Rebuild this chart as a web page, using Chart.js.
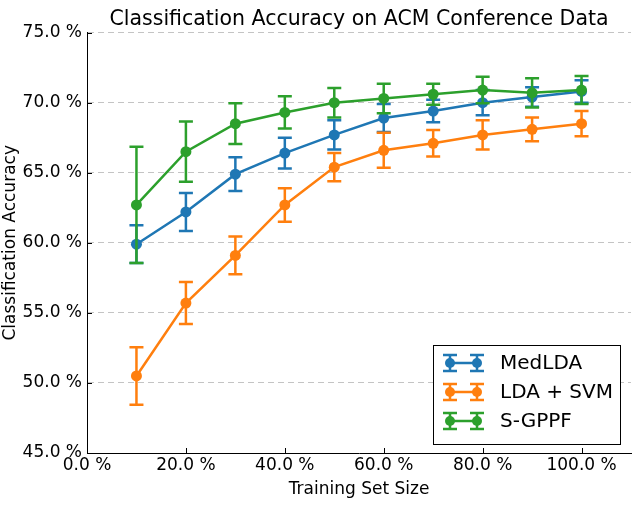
<!DOCTYPE html>
<html>
<head>
<meta charset="utf-8">
<script src="https://cdn.jsdelivr.net/npm/chart.js@4/dist/chart.umd.min.js"></script>
<style>
  html, body { margin: 0; padding: 0; background: #fff; }
</style>
</head>
<body>
<canvas id="chart" width="641" height="508"></canvas>
<script>
// training set size (%)
const trainSizes = [10, 20, 30, 40, 50, 60, 70, 80, 90, 100];
const xTicks = [0, 20, 40, 60, 80, 100];
const yTicks = [45, 50, 55, 60, 65, 70, 75];

const seriesNames = ['MedLDA', 'LDA + SVM', 'S-GPPF'];
const seriesColors = ['#1f77b4', '#ff7f0e', '#2ca02c'];

// accuracy (%) and error bar half-length
const medldaAcc = [59.9, 62.2, 64.9, 66.4, 67.7, 68.9, 69.4, 70.0, 70.4, 70.8];
const medldaErr = [1.35, 1.35, 1.2, 1.1, 1.05, 1.0, 0.8, 0.9, 0.7, 0.8];
const ldaSvmAcc = [50.5, 55.7, 59.1, 62.7, 65.4, 66.6, 67.1, 67.7, 68.1, 68.5];
const ldaSvmErr = [2.05, 1.5, 1.35, 1.2, 1.0, 1.25, 0.95, 1.05, 0.85, 0.9];
const sgppfAcc = [62.7, 66.5, 68.5, 69.3, 70.0, 70.3, 70.6, 70.9, 70.7, 70.9];
const sgppfErr = [4.15, 2.15, 1.45, 1.15, 1.05, 1.05, 0.75, 0.95, 1.05, 1.0];

const accs = [medldaAcc, ldaSvmAcc, sgppfAcc];
const errs = [medldaErr, ldaSvmErr, sgppfErr];

const FONT = "'DejaVu Sans', sans-serif";

// vertical error bars with caps, drawn under each line
const errorBars = {
  id: 'errorBars',
  beforeDatasetDraw(chart, args) {
    const ds = chart.data.datasets[args.index];
    const yScale = chart.scales.y;
    const ctx = chart.ctx;
    ctx.save();
    ctx.strokeStyle = ds.borderColor;
    ctx.lineWidth = 2.5;
    args.meta.data.forEach((pt, i) => {
      const v = ds.data[i].y, e = ds.errors[i];
      const top = yScale.getPixelForValue(v + e);
      const bot = yScale.getPixelForValue(v - e);
      ctx.beginPath();
      ctx.moveTo(pt.x, top); ctx.lineTo(pt.x, bot);
      ctx.moveTo(pt.x - 7, top); ctx.lineTo(pt.x + 7, top);
      ctx.moveTo(pt.x - 7, bot); ctx.lineTo(pt.x + 7, bot);
      ctx.stroke();
    });
    ctx.restore();
  }
};

// inward tick marks like matplotlib
const innerTicks = {
  id: 'innerTicks',
  afterDraw(chart) {
    const {ctx, chartArea, scales: {x, y}} = chart;
    ctx.save();
    ctx.strokeStyle = '#000';
    ctx.lineWidth = 1;
    ctx.beginPath();
    xTicks.forEach(v => {
      const px = Math.round(x.getPixelForValue(v)) + 0.5;
      ctx.moveTo(px, chartArea.bottom);
      ctx.lineTo(px, chartArea.bottom - 5);
    });
    yTicks.forEach(v => {
      const py = Math.round(y.getPixelForValue(v)) + 0.5;
      ctx.moveTo(chartArea.left, py);
      ctx.lineTo(chartArea.left + 5, py);
    });
    ctx.stroke();
    ctx.restore();
  }
};

// boxed legend with errorbar glyphs, lower right
const errLegend = {
  id: 'errLegend',
  afterDatasetsDraw(chart) {
    const {ctx, chartArea} = chart;
    const w = 187, h = 99;
    const bx = chartArea.right - 11 - w, by = chartArea.bottom - 9 - h;
    ctx.save();
    ctx.fillStyle = '#fff';
    ctx.fillRect(bx, by, w, h);
    ctx.strokeStyle = '#000';
    ctx.lineWidth = 1;
    ctx.strokeRect(Math.round(bx) + 0.5, Math.round(by) + 0.5, w, h);
    ctx.font = '20px ' + FONT;
    ctx.textBaseline = 'middle';
    seriesNames.forEach((name, i) => {
      const cy = by + 18 + i * 29;
      const x1 = bx + 17, x2 = bx + 44;
      ctx.strokeStyle = seriesColors[i];
      ctx.fillStyle = seriesColors[i];
      ctx.lineWidth = 2.5;
      ctx.beginPath();
      ctx.moveTo(x1, cy); ctx.lineTo(x2, cy);
      [x1, x2].forEach(px => {
        ctx.moveTo(px, cy - 8); ctx.lineTo(px, cy + 8);
        ctx.moveTo(px - 7, cy - 8); ctx.lineTo(px + 7, cy - 8);
        ctx.moveTo(px - 7, cy + 8); ctx.lineTo(px + 7, cy + 8);
      });
      ctx.stroke();
      [x1, x2].forEach(px => {
        ctx.beginPath();
        ctx.arc(px, cy, 5, 0, Math.PI * 2);
        ctx.fill();
      });
      ctx.fillStyle = '#000';
      ctx.fillText(name, bx + 67, cy + 1);
    });
    ctx.restore();
  }
};

const datasets = seriesNames.map((name, i) => ({
  label: name,
  data: trainSizes.map((x, j) => ({x: x, y: accs[i][j]})),
  errors: errs[i],
  borderColor: seriesColors[i],
  backgroundColor: seriesColors[i],
  borderWidth: 2.5,
  pointRadius: 5.5,
  pointBorderWidth: 0,
  pointBackgroundColor: seriesColors[i],
  tension: 0,
  order: 3 - i
}));

new Chart(document.getElementById('chart'), {
  type: 'line',
  data: {datasets},
  options: {
    responsive: false,
    animation: false,
    layout: {padding: {left: 0, right: 10, top: 0, bottom: 0}},
    plugins: {
      legend: {display: false},
      tooltip: {enabled: false},
      title: {
        display: true,
        text: 'Classification Accuracy on ACM Conference Data',
        fullSize: false,
        color: '#000',
        font: {family: FONT, size: 20.5, weight: 'normal'},
        padding: {top: 7, bottom: 1}
      }
    },
    scales: {
      x: {
        type: 'linear',
        min: 0,
        max: 110,
        afterBuildTicks: s => { s.ticks = xTicks.map(v => ({value: v})); },
        afterFit: s => { s.height = 55; },
        grid: {display: false, drawTicks: false},
        border: {display: true, color: '#000', width: 1},
        ticks: {
          color: '#000',
          padding: 2,
          maxRotation: 0,
          font: {family: FONT, size: 17},
          callback: v => v.toFixed(1) + ' %'
        },
        title: {
          display: true,
          text: 'Training Set Size',
          color: '#000',
          font: {family: FONT, size: 17},
          padding: {top: 0, bottom: 8}
        }
      },
      y: {
        min: 45,
        max: 75,
        afterBuildTicks: s => { s.ticks = yTicks.map(v => ({value: v})); },
        afterFit: s => { s.width = 87; },
        grid: {
          drawTicks: false,
          color: ctx => (ctx.tick && ctx.tick.value === 45) ? 'rgba(0,0,0,0)' : '#c4c4c4',
          lineWidth: 1
        },
        border: {display: true, color: '#000', width: 1, dash: [6, 4]},
        ticks: {
          color: '#000',
          padding: 5,
          font: {family: FONT, size: 17},
          callback: v => v.toFixed(1) + ' %'
        },
        title: {
          display: true,
          text: 'Classification Accuracy',
          color: '#000',
          font: {family: FONT, size: 17},
          padding: {top: 0, bottom: 0}
        }
      }
    }
  },
  plugins: [errorBars, innerTicks, errLegend]
});
</script>
</body>
</html>
